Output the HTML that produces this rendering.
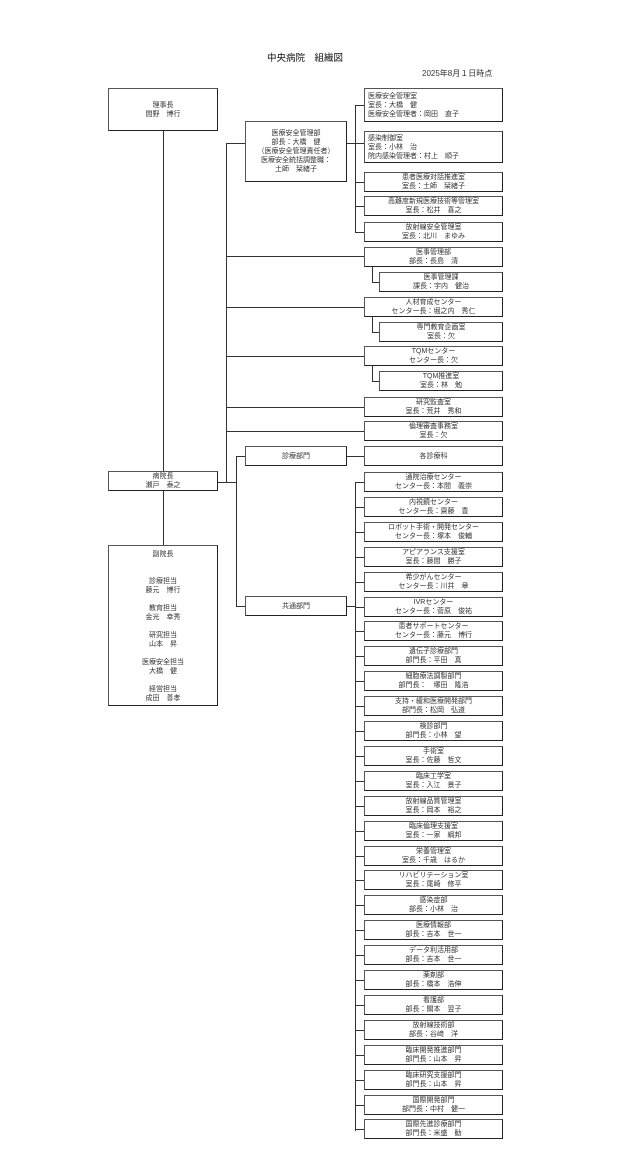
<!DOCTYPE html>
<html><head><meta charset="utf-8"><style>
body{margin:0;background:#fff;}
#c{position:relative;width:640px;height:1150px;font-family:"Liberation Sans","Noto Sans CJK JP",sans-serif;color:#333;font-size:7px;line-height:9px;}
.b{position:absolute;border:1px solid #555;border-right-color:#222;border-bottom-color:#222;box-sizing:border-box;text-align:center;display:flex;flex-direction:column;justify-content:center;white-space:nowrap;}
.l{text-align:left;padding-left:3px;}
.h{position:absolute;height:1px;background:#333;}
.v{position:absolute;width:1px;background:#333;}
.t{position:absolute;white-space:nowrap;}
</style></head><body><div id="c">
<div class="t" style="left:267px;top:54px;font-size:9.5px;color:#111">中央病院　組織図</div>
<div class="t" style="left:422px;top:69px;font-size:8px">2025年8月１日時点</div>

<div class="b" style="left:108px;top:88px;width:110px;height:43px">理事長<br>間野　博行</div>
<div class="v" style="left:163px;top:131px;height:340px"></div>
<div class="b" style="left:108px;top:471px;width:110px;height:20px">病院長<br>瀬戸　泰之</div>
<div class="v" style="left:163px;top:491px;height:54px"></div>
<div class="b" style="left:108px;top:545px;width:110px;height:161px;justify-content:flex-start;padding-top:4px">副院長<br><br><br>診療担当<br>藤元　博行<br><br>教育担当<br>金光　幸秀<br><br>研究担当<br>山本　昇<br><br>医療安全担当<br>大橋　健<br><br>経営担当<br>成田　善孝</div>

<div class="h" style="left:218px;top:482px;width:18px"></div>
<div class="v" style="left:226px;top:143px;height:340px"></div>
<div class="h" style="left:226px;top:143px;width:19px"></div>
<div class="b" style="left:245px;top:121px;width:102px;height:61px">医療安全管理部<br>部長：大橋　健<br>（医療安全管理責任者）<br>医療安全統括調整職：<br>土師　栞緒子</div>
<div class="h" style="left:347px;top:143px;width:17px"></div>
<div class="v" style="left:355px;top:105px;height:128px"></div>
<div class="h" style="left:355px;top:105px;width:9px"></div>
<div class="h" style="left:355px;top:182px;width:9px"></div>
<div class="h" style="left:355px;top:206px;width:9px"></div>
<div class="h" style="left:355px;top:232px;width:9px"></div>

<div class="b l" style="left:364px;top:88px;width:139px;height:34px">医療安全管理室<br>室長：大橋　健<br>医療安全管理者：岡田　直子</div>
<div class="b l" style="left:364px;top:131px;width:139px;height:32px">感染制御室<br>室長：小林　治<br>院内感染管理者：村上　順子</div>
<div class="b" style="left:364px;top:172px;width:139px;height:20px">患者医療対話推進室<br>室長：土師　栞緒子</div>
<div class="b" style="left:364px;top:196px;width:139px;height:20px">高難度新規医療技術等管理室<br>室長：松井　喜之</div>
<div class="b" style="left:364px;top:222px;width:139px;height:20px">放射線安全管理室<br>室長：北川　まゆみ</div>

<div class="h" style="left:226px;top:256px;width:138px"></div>
<div class="b" style="left:364px;top:247px;width:139px;height:20px">医事管理部<br>部長：長島　清</div>
<div class="v" style="left:372px;top:267px;height:16px"></div><div class="h" style="left:372px;top:282px;width:7px"></div>
<div class="b" style="left:379px;top:272px;width:124px;height:20px">医事管理課<br>課長：宇内　健治</div>

<div class="h" style="left:226px;top:307px;width:138px"></div>
<div class="b" style="left:364px;top:297px;width:139px;height:20px">人材育成センター<br>センター長：堀之内　秀仁</div>
<div class="v" style="left:372px;top:317px;height:16px"></div><div class="h" style="left:372px;top:332px;width:7px"></div>
<div class="b" style="left:379px;top:322px;width:124px;height:20px">専門教育企画室<br>室長：欠</div>

<div class="h" style="left:226px;top:356px;width:138px"></div>
<div class="b" style="left:364px;top:346px;width:139px;height:20px">TQMセンター<br>センター長：欠</div>
<div class="v" style="left:372px;top:366px;height:16px"></div><div class="h" style="left:372px;top:381px;width:7px"></div>
<div class="b" style="left:379px;top:371px;width:124px;height:20px">TQM推進室<br>室長：林　勉</div>

<div class="h" style="left:226px;top:407px;width:138px"></div>
<div class="b" style="left:364px;top:397px;width:139px;height:20px">研究監査室<br>室長：荒井　秀和</div>
<div class="h" style="left:226px;top:431px;width:138px"></div>
<div class="b" style="left:364px;top:421px;width:139px;height:20px">倫理審査事務室<br>室長：欠</div>

<div class="v" style="left:236px;top:456px;height:151px"></div>
<div class="h" style="left:236px;top:456px;width:9px"></div>
<div class="h" style="left:236px;top:606px;width:9px"></div>
<div class="b" style="left:245px;top:446px;width:102px;height:20px">診療部門</div>
<div class="b" style="left:245px;top:596px;width:102px;height:20px">共通部門</div>
<div class="h" style="left:347px;top:456px;width:17px"></div>
<div class="b" style="left:364px;top:446px;width:139px;height:20px">各診療科</div>
<div class="h" style="left:347px;top:606px;width:9px"></div>
<div class="v" style="left:355px;top:482px;height:649px"></div>

<div id="list"></div>
</div>
<script>
var d=[["通院治療センター","センター長：本間　義崇"],["内視鏡センター","センター長：齋藤　豊"],["ロボット手術・開発センター","センター長：塚本　俊輔"],["アピアランス支援室","室長：藤間　勝子"],["希少がんセンター","センター長：川井　章"],["IVRセンター","センター長：菅原　俊祐"],["患者サポートセンター","センター長：藤元　博行"],["遺伝子診療部門","部門長：平田　真"],["細胞療法調製部門","部門長：　塚田　隆浩"],["支持・緩和医療開発部門","部門長：松岡　弘道"],["検診部門","部門長：小林　望"],["手術室","室長：佐藤　哲文"],["臨床工学室","室長：入江　景子"],["放射線品質管理室","室長：岡本　裕之"],["臨床倫理支援室","室長：一家　綱邦"],["栄養管理室","室長：千歳　はるか"],["リハビリテーション室","室長：尾崎　修平"],["感染症部","部長：小林　治"],["医療情報部","部長：吉本　世一"],["データ利活用部","部長：吉本　世一"],["薬剤部","部長：橋本　浩伸"],["看護部","部長：關本　翌子"],["放射線技術部","部長：谷﨑　洋"],["臨床開発推進部門","部門長：山本　昇"],["臨床研究支援部門","部門長：山本　昇"],["国際開発部門","部門長：中村　健一"],["国際先進診療部門","部門長：米盛　勧"]];
var h="";for(var i=0;i<d.length;i++){var t=Math.round(472+i*24.9);h+='<div class="h" style="left:355px;top:'+(t+10)+'px;width:9px"></div><div class="b" style="left:364px;top:'+t+'px;width:139px;height:20px">'+d[i][0]+'<br>'+d[i][1]+'</div>';}
document.getElementById("list").innerHTML=h;
</script>
</body></html>
